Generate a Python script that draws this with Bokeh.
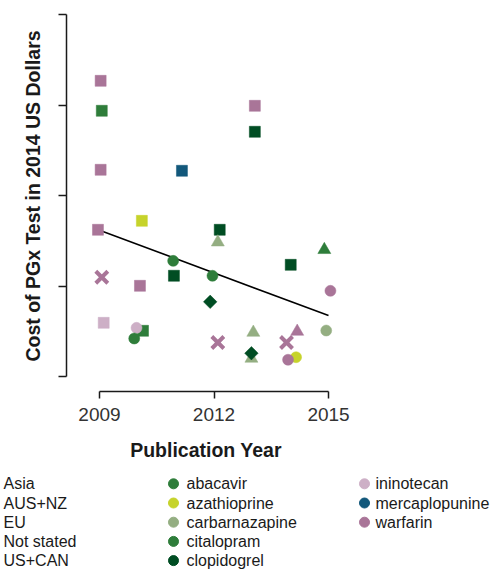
import numpy as np
from bokeh.plotting import figure
from bokeh.models import ColumnDataSource, Range1d, FixedTicker
from bokeh.embed import file_html
from bokeh.resources import INLINE
from bokeh.core.properties import value

# ---------------- data ----------------
regions = ["Asia", "AUS+NZ", "EU", "Not stated", "US+CAN"]
drugs = ["abacavir", "azathioprine", "carbarnazapine", "citalopram",
         "clopidogrel", "ininotecan", "mercaplopunine", "warfarin"]
drug_colors = ["#2E7D3A", "#C6D32B", "#94AE82", "#2E7D3A",
               "#004D23", "#CDAFC6", "#12587B", "#A97598"]

point_drug = ["warfarin", "abacavir", "warfarin", "mercaplopunine", "azathioprine",
              "warfarin", "clopidogrel", "warfarin", "clopidogrel", "carbarnazapine",
              "abacavir", "clopidogrel", "citalopram", "warfarin", "warfarin",
              "clopidogrel", "ininotecan", "citalopram", "ininotecan", "abacavir",
              "warfarin", "citalopram", "clopidogrel", "warfarin", "carbarnazapine",
              "carbarnazapine", "warfarin", "warfarin", "carbarnazapine", "clopidogrel",
              "azathioprine", "warfarin"]
point_region = ["US+CAN", "US+CAN", "US+CAN", "US+CAN", "US+CAN",
                "US+CAN", "US+CAN", "US+CAN", "US+CAN", "AUS+NZ",
                "Asia", "US+CAN", "Asia", "Not stated", "US+CAN",
                "EU", "US+CAN", "US+CAN", "Asia", "Asia",
                "Not stated", "AUS+NZ", "US+CAN", "Asia", "Asia",
                "AUS+NZ", "AUS+NZ", "Not stated", "AUS+NZ", "EU",
                "Asia", "Asia"]
point_year = [2009.03, 2009.06, 2009.03, 2011.16, 2010.11,
              2008.96, 2012.15, 2013.07, 2013.07, 2012.10,
              2010.93, 2010.95, 2011.96, 2009.06, 2010.06,
              2011.90, 2009.11, 2010.14, 2009.97, 2009.91,
              2012.10, 2014.89, 2014.01, 2015.05, 2014.94,
              2013.03, 2014.18, 2013.90, 2012.98, 2012.98,
              2014.15, 2013.94]
point_cost = [326.7, 293.6, 228.4, 227.3, 172.0,
              162.1, 162.1, 299.1, 270.4, 148.4,
              127.8, 111.3, 111.3, 109.7, 100.2,
              82.5, 59.3, 50.5, 53.8, 42.0,
              37.6, 140.0, 123.4, 94.7, 50.8,
              48.6, 49.7, 37.6, 19.9, 25.7,
              21.3, 18.5]

trend_year = [2009, 2015]
trend_cost = [161.7, 67.3]

x_ticks = [2009, 2012, 2015]
y_ticks = [0, 100, 200, 300, 400]

# ---------------- styling ----------------
FONT = "Liberation Sans"
color_of = dict(zip(drugs, drug_colors))
region_style = {
    "US+CAN": dict(marker="square", size=11, angle=0.0),
    "AUS+NZ": dict(marker="triangle", size=13, angle=0.0),
    "Asia": dict(marker="circle", size=11, angle=0.0),
    "EU": dict(marker="square", size=9.5, angle=np.pi / 4),
    "Not stated": dict(marker="x", size=17, angle=0.0),
}
draw_order = ["US+CAN", "AUS+NZ", "Asia", "EU", "Not stated"]

p = figure(width=358, height=464,
           x_range=Range1d(2008.1355, 2015.445),
           y_range=Range1d(-16.57, 415.47),
           output_backend="svg", toolbar_location=None,
           min_border_left=66, min_border_right=13,
           min_border_top=0, min_border_bottom=73,
           outline_line_color=None, background_fill_color="white")
p.xgrid.visible = False
p.ygrid.visible = False

p.line(trend_year, trend_cost, line_color="black", line_width=1.6)

for reg in draw_order:
    idx = [i for i, r in enumerate(point_region) if r == reg]
    if reg == "Asia":
        idx = sorted(idx, key=lambda i: point_drug[i] == "warfarin")
    st = region_style[reg]
    src = ColumnDataSource(dict(
        x=[point_year[i] for i in idx],
        y=[point_cost[i] for i in idx],
        c=[color_of[point_drug[i]] for i in idx],
    ))
    if st["marker"] == "x":
        p.scatter("x", "y", source=src, marker="x", size=st["size"],
                  line_color="c", line_width=4)
    else:
        p.scatter("x", "y", source=src, marker=st["marker"], size=st["size"],
                  angle=st["angle"], fill_color="c", line_color="c", line_width=0.5)

ax = p.xaxis[0]
ax.ticker = FixedTicker(ticks=x_ticks)
ax.bounds = (x_ticks[0], x_ticks[-1])
ax.axis_label = "Publication Year"
ay = p.yaxis[0]
ay.ticker = FixedTicker(ticks=y_ticks)
ay.bounds = (y_ticks[0], y_ticks[-1])
ay.axis_label = "Cost of PGx Test in 2014 US Dollars"
ay.major_label_overrides = {t: "" for t in y_ticks}
ay.major_label_standoff = 0

for a in (ax, ay):
    a.axis_line_color = "#1a1a1a"
    a.axis_line_width = 1.5
    a.major_tick_line_color = "#1a1a1a"
    a.major_tick_line_width = 1.5
    a.major_tick_in = 0
    a.minor_tick_line_color = None
    a.axis_label_text_font = FONT
    a.axis_label_text_font_size = "19.5px"
    a.axis_label_text_font_style = "bold"
    a.axis_label_text_color = "#1a1a1a"
    a.major_label_text_font = FONT
ax.major_tick_out = 7
ax.major_label_text_font_size = "19px"
ax.major_label_text_color = "#333333"
ax.major_label_standoff = 9
ax.axis_label_standoff = 15
ay.major_tick_out = 8
ay.axis_label_standoff = 15

# ---------------- legend (separate panel, separate root) ----------------
LW, LH = 498, 107
leg = figure(width=LW, height=LH, x_range=Range1d(0, LW), y_range=Range1d(LH, 0),
             output_backend="svg", toolbar_location=None,
             x_axis_location=None, y_axis_location=None,
             min_border=0, outline_line_color=None)
leg.xgrid.visible = False
leg.ygrid.visible = False

row0, row_step = 19.3, 19.2
col1_text = 3
col2_dot, col2_text = 173, 186
col3_dot, col3_text = 364, 375
rows_per_col = 5

reg_src = ColumnDataSource(dict(
    x=[col1_text] * len(regions),
    y=[row0 + row_step * i for i in range(len(regions))],
    t=regions))
leg.text("x", "y", text="t", source=reg_src, text_font=value(FONT),
         text_font_size="16px", text_color="#1a1a1a",
         text_baseline="middle", text_align="left")

dot_x, txt_x, yy = [], [], []
for i, d in enumerate(drugs):
    c, r = divmod(i, rows_per_col)
    dot_x.append(col2_dot if c == 0 else col3_dot)
    txt_x.append(col2_text if c == 0 else col3_text)
    yy.append(row0 + row_step * r)
drug_src = ColumnDataSource(dict(dx=dot_x, tx=txt_x, y=yy, t=drugs, c=drug_colors))
leg.scatter("dx", "y", source=drug_src, marker="circle", size=10,
            fill_color="c", line_color="c")
leg.text("tx", "y", text="t", source=drug_src, text_font=value(FONT),
         text_font_size="16px", text_color="#1a1a1a",
         text_baseline="middle", text_align="left")

open("out.html", "w").write(file_html([p, leg], INLINE))
